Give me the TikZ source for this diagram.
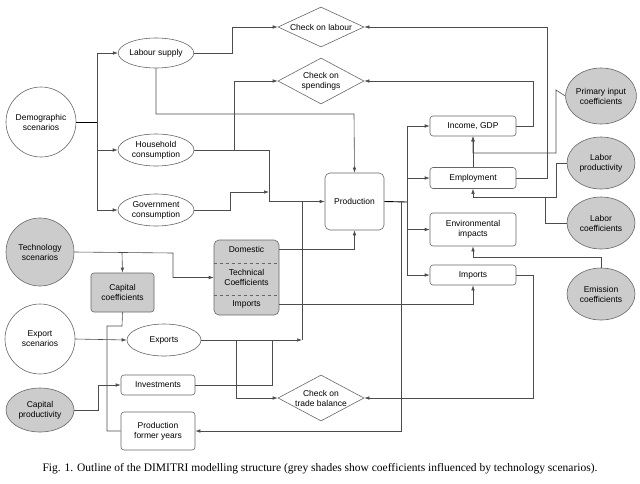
\documentclass[tikz,border=0pt]{standalone}
\usepackage{fontspec}
\setmainfont{Liberation Sans}
\newfontfamily\capfont{Liberation Serif}
\usetikzlibrary{shapes.geometric,arrows.meta}
\begin{document}
\begin{tikzpicture}[x=1pt,y=-1pt,
  every node/.style={font=\fontsize{8.5}{10}\selectfont,align=center,inner sep=0pt},
  base/.style={draw=black!60,line width=0.6pt},
  gfill/.style={fill=black!20},
  circ/.style={base,circle,minimum size=70pt},
  ell/.style={base,ellipse},
  rbox/.style={base,rounded corners=3pt,minimum width=86pt},
  dia/.style={base,diamond,aspect=2.1,minimum width=86pt},
  ln/.style={draw=black!70,line width=0.6pt},
  ar/.style={ln,-{Latex[length=5pt,width=3.5pt]}}]
\useasboundingbox (0,0) rectangle (640,483);
% nodes
\node[circ] (demo) at (41,122) {Demographic\\scenarios};
\node[ell,minimum width=70pt,minimum height=30pt] (lab) at (156,53) {Labour supply};
\node[ell,minimum width=76pt,minimum height=32pt] (hh) at (156,150) {Household\\consumption};
\node[ell,minimum width=76pt,minimum height=32pt] (gov) at (156,210) {Government\\consumption};
\node[dia,minimum height=40pt] (chl) at (321,27) {Check on labour};
\node[dia,minimum height=46pt] (chs) at (321,81) {Check on\\spendings};
\node[rbox,minimum width=59pt,minimum height=57pt,rounded corners=5pt] (prod) at (354.5,201.5) {Production};
\node[circ,gfill,minimum size=68pt] (tech) at (40,252) {Technology\\scenarios};
\node[rbox,gfill,minimum width=63pt,minimum height=39pt] (capc) at (122.5,292.5) {Capital\\coefficients};
\node[rbox,gfill,minimum width=65pt,minimum height=75pt,rounded corners=5pt] (tc) at (246.5,277.5) {};
\node (dom) at (246.5,249.5) {Domestic};
\node at (246.5,277) {Technical\\Coefficients};
\node (timp) at (246.5,304) {Imports};
\draw[black!60,dashed,line width=0.5pt] (tc.west|-0,263) -- (tc.east|-0,263);
\draw[black!60,dashed,line width=0.5pt] (tc.west|-0,295) -- (tc.east|-0,295);
\node[circ] (exps) at (40,339) {Export\\scenarios};
\node[ell,minimum width=74pt,minimum height=32pt] (exp) at (164,340) {Exports};
\node[rbox,minimum width=74pt,minimum height=20pt] (inv) at (158,385) {Investments};
\node[ell,gfill,minimum width=68pt,minimum height=44pt] (capp) at (40,410) {Capital\\productivity};
\node[rbox,minimum width=74pt,minimum height=38pt] (pfy) at (158,431) {Production\\former years};
\node[dia,minimum height=46pt] (cht) at (321,398) {Check on\\trade balance};
\node[rbox,minimum height=20pt] (inc) at (473,126) {Income, GDP};
\node[rbox,minimum height=21pt] (emp) at (473,178) {Employment};
\node[rbox,minimum height=33pt] (env) at (473,229.5) {Environmental\\impacts};
\node[rbox,minimum height=20pt] (imp) at (473,275) {Imports};
\node[ell,gfill,minimum width=68pt,minimum height=56pt] (pic) at (601,96) {Primary input\\coefficients};
\node[ell,gfill,minimum width=68pt,minimum height=52pt] (lp) at (601,163) {Labor\\productivity};
\node[ell,gfill,minimum width=68pt,minimum height=52pt] (lc) at (601,223) {Labor\\coefficients};
\node[ell,gfill,minimum width=68pt,minimum height=52pt] (ec) at (601,294) {Emission\\coefficients};
\node[font=\capfont\fontsize{11.5}{13}\selectfont] (cap) at (320,469) {Fig. 1. Outline of the DIMITRI modelling structure (grey shades show coefficients influenced by technology scenarios).};
% connectors
\coordinate (dj) at (97,122);
\draw[ln,line width=0.9pt,black] (demo.east) -- (dj);
\draw[ar] (dj) |- (lab.west);
\draw[ar] (dj) |- (hh.west);
\draw[ar] (dj) |- (gov.west);
\draw[ar] (lab.east) -- (232,53) |- (chl.west);
\draw[ar] (lab.south) |- (354,114) -- (prod.north);
\draw[ar] (hh.east) -- (234,150) |- (chs.west);
\draw[ar] (hh.east) -- (269,150) |- (prod.west);
\draw[ar] (gov.east) -- (230,210) |- (269,192);
\draw[ar] (tech.east) -- (173,253) |- (tc.west);
\draw[ar] (122,253) -- (capc.north);
\draw[ar] (tc.east|-dom) -| (prod.south);
\draw[ar] (tc.east|-timp) -| (imp.south);
\draw[ln] (capc.south) -- (122,326) -- (107,326) |- (pfy.west);
\draw[ar] (exps.east) -- (exp.west);
\draw[ar] (exp.east) -- (302,340);
\draw[ln] (302,340) -- (302,202);
\draw[ar] (exp.east) -- (236,340) |- (cht.west);
\draw[ln] (inv.east) -- (272,385) -- (272,340);
\draw[ar] (capp.east) -- (98,410) |- (inv.west);
\coordinate (pj) at (407,202);
\draw[ln,line width=0.9pt,black] (prod.east) -- (pj);
\draw[ar] (pj) |- (inc.west);
\draw[ar] (pj) |- (emp.west);
\draw[ar] (pj) |- (env.west);
\draw[ar] (pj) |- (imp.west);
\draw[ar] (401,202) |- (pfy.east);
\draw[ar] (inc.east) -- (533,126) |- (chs.east);
\draw[ar] (emp.east) -- (547,178) |- (chl.east);
\draw[ar] (emp.north) -- (inc.south);
\draw[ar] (pic.west) -- (556,90) |- (473,153) -- (inc.south);
\draw[ar] (lp.west) -- (556,163) |- (473,197) -- (emp.south);
\draw[ln] (lc.west) -- (545,223) -- (545,197);
\draw[ar] (ec.north) |- (473,257) -- (env.south);
\draw[ar] (imp.east) -- (533,275) |- (cht.east);
\end{tikzpicture}
\end{document}
